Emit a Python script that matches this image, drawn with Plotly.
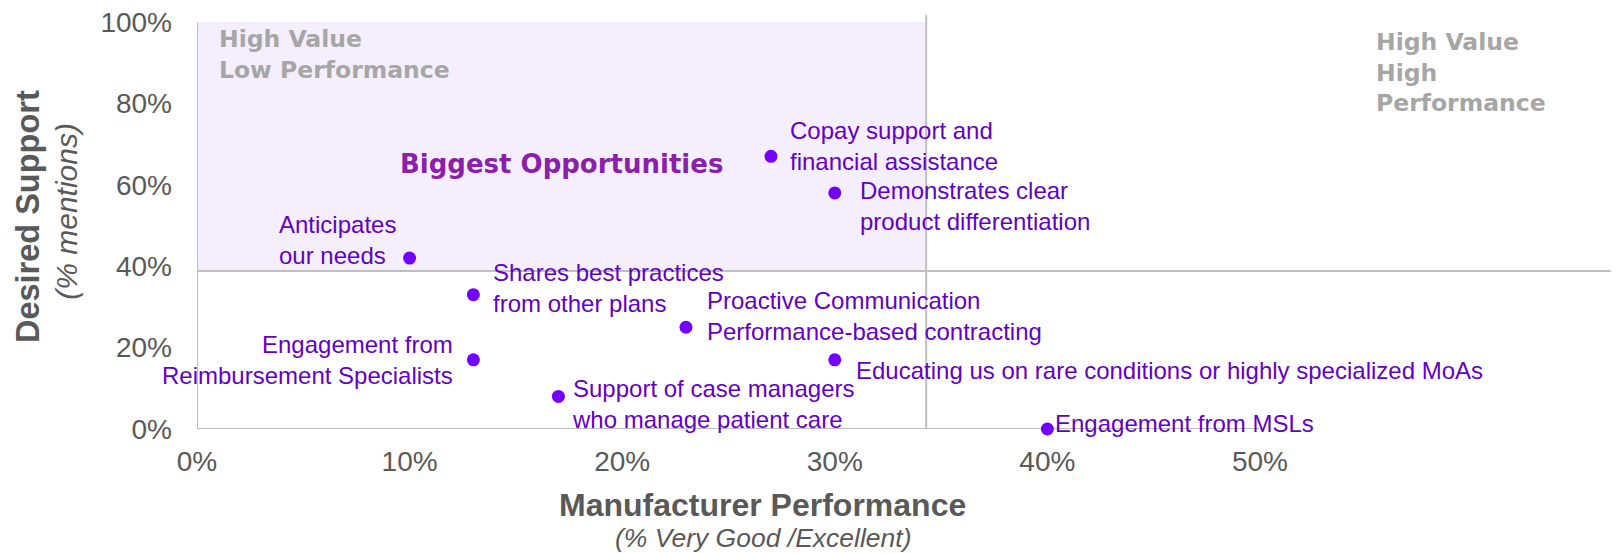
import plotly.graph_objects as go

# datos
etiquetas = ["Anticipates<br>our needs",
             "Copay support and<br>financial assistance",
             "Demonstrates clear<br>product differentiation",
             "Shares best practices<br>from other plans",
             "Engagement from<br>Reimbursement Specialists",
             "Proactive Communication<br>Performance-based contracting",
             "Educating us on rare conditions or highly specialized MoAs",
             "Support of case managers<br>who manage patient care",
             "Engagement from MSLs"]
desempeno = [0.10, 0.27, 0.30, 0.13, 0.13, 0.23, 0.30, 0.17, 0.40]
soporte = [0.42, 0.67, 0.58, 0.33, 0.17, 0.25, 0.17, 0.08, 0.00]

ticks_x = [0, 0.1, 0.2, 0.3, 0.4, 0.5]
ticks_y = [0, 0.2, 0.4, 0.6, 0.8, 1.0]

# limites de los cuadrantes
corte_x = 0.343
corte_y = 0.388

# colocacion de las etiquetas junto a cada punto
anclas = ['right', 'left', 'left', 'left', 'right', 'left', 'left', 'left', 'left']
alineacion = ['left', 'left', 'left', 'left', 'right', 'left', 'left', 'left', 'left']
desplaz_x = [-12, 17, 23, 18, -18, 19, 19, 12, 6]
desplaz_y = [18, 10, -13, 7, 0, 11, -11, -8, 6]

morado = '#6300C6'
gris = '#A6A6A6'
gris_osc = '#595959'
linea = '#BFBFBF'

fig = go.Figure()

# puntos
fig.add_trace(go.Scatter(x=desempeno, y=soporte, mode='markers',
                         marker=dict(size=13, color='#7300FF'),
                         cliponaxis=False, hoverinfo='skip'))

# etiquetas de los puntos
for i in range(len(etiquetas)):
    fig.add_annotation(x=desempeno[i], y=soporte[i], text=etiquetas[i],
                       showarrow=False, xanchor=anclas[i], yanchor='middle',
                       align=alineacion[i], xshift=desplaz_x[i], yshift=desplaz_y[i],
                       font=dict(family='Liberation Sans, Arial', size=24, color=morado))

# zona sombreada y lineas
fig.add_shape(type='rect', x0=0, x1=corte_x, y0=corte_y, y1=1.0,
              fillcolor='#F5EFFD', line_width=0, layer='below')
fig.add_shape(type='line', x0=0, x1=0.665, y0=corte_y, y1=corte_y,
              line=dict(color=linea, width=2), layer='below')
fig.add_shape(type='line', x0=corte_x, x1=corte_x, y0=-0.01, y1=1.017,
              line=dict(color=linea, width=2), layer='below')
fig.add_shape(type='line', x0=0, x1=0, y0=0, y1=1.0,
              line=dict(color=linea, width=2), layer='below')
fig.add_shape(type='line', x0=0, x1=0.5, y0=0, y1=0,
              line=dict(color=linea, width=2), layer='below')

# textos de los cuadrantes
fuente_cuad = dict(family='DejaVu Sans', size=23.5, color=gris)
cuadrantes = [(0.0095, 0.919, "<b>High Value<br>Low Performance</b>"),
              (0.5537, 0.875, "<b>High Value<br>High<br>Performance</b>"),
              (0.0095, -0.005, "<b>Low Value<br>Low Performance</b>"),
              (0.5537, -0.023, "<b>Low Value<br>High Performance</b>")]
for cx, cy, txt in cuadrantes:
    fig.add_annotation(x=cx, y=cy, text=txt, showarrow=False, xanchor='left',
                       yanchor='middle', align='left', font=fuente_cuad)

fig.add_annotation(x=0.1714, y=0.651, text="<b>Biggest Opportunities</b>",
                   showarrow=False, xanchor='center', yanchor='middle',
                   font=dict(family='DejaVu Sans', size=26, color='#8B1FA9'))

# titulos de los ejes
fig.add_annotation(xref='paper', yref='paper', x=0.3993, y=-0.184,
                   xanchor='center', yanchor='middle',
                   text="<b>Manufacturer Performance</b>", showarrow=False,
                   font=dict(family='Liberation Sans, Arial', size=32, color=gris_osc))
fig.add_annotation(xref='paper', yref='paper', x=0.4007, y=-0.263,
                   xanchor='center', yanchor='middle',
                   text="<i>(% Very Good /Excellent)</i>", showarrow=False,
                   font=dict(family='Liberation Sans, Arial', size=26.5, color=gris_osc))
fig.add_annotation(xref='paper', yref='paper', x=-0.1194, y=0.512, textangle=-90,
                   xanchor='center', yanchor='middle',
                   text="<b>Desired Support</b>", showarrow=False,
                   font=dict(family='Liberation Sans, Arial', size=32.5, color=gris_osc))
fig.add_annotation(xref='paper', yref='paper', x=-0.0919, y=0.527, textangle=-90,
                   xanchor='center', yanchor='middle',
                   text="<i>(% mentions)</i>", showarrow=False,
                   font=dict(family='Liberation Sans, Arial', size=30, color=gris_osc))

# la pagina tiene 8 px de margen, se descuentan aqui
fig.update_layout(width=1616, height=545,
                  margin=dict(l=189, r=12, t=7, b=124),
                  plot_bgcolor='white', paper_bgcolor='white',
                  showlegend=False)
fig.update_xaxes(range=[0, 0.6656], tickvals=ticks_x, tickformat='.0%',
                 showgrid=False, zeroline=False, showline=False, ticks='',
                 ticklabelstandoff=13, automargin=False,
                 tickfont=dict(family='Liberation Sans, Arial', size=28, color=gris_osc))
fig.update_yaxes(range=[0, 1.0172], tickvals=ticks_y, tickformat='.0%',
                 showgrid=False, zeroline=False, showline=False, ticks='',
                 ticklabelstandoff=24, automargin=False, ticklabeloverflow='allow',
                 tickfont=dict(family='Liberation Sans, Arial', size=28, color=gris_osc))

fig.write_html("out.html")
